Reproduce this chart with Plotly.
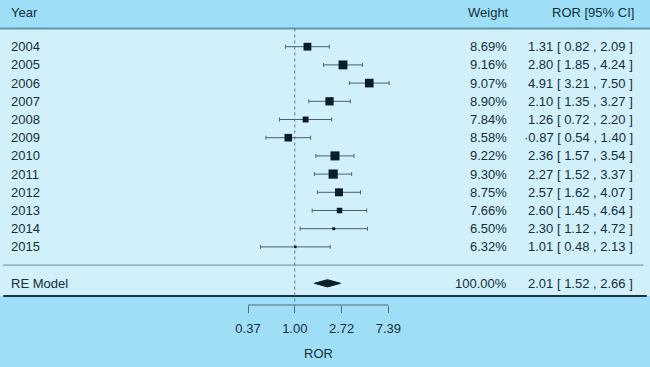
import math
import plotly.graph_objects as go

# ---------------- data ----------------
years = ["2004", "2005", "2006", "2007", "2008", "2009",
         "2010", "2011", "2012", "2013", "2014", "2015"]
weights = [8.69, 9.16, 9.07, 8.90, 7.84, 8.58, 9.22, 9.30, 8.75, 7.66, 6.50, 6.32]
ror = [1.31, 2.80, 4.91, 2.10, 1.26, 0.87, 2.36, 2.27, 2.57, 2.60, 2.30, 1.01]
ci_low = [0.82, 1.85, 3.21, 1.35, 0.72, 0.54, 1.57, 1.52, 1.62, 1.45, 1.12, 0.48]
ci_high = [2.09, 4.24, 7.50, 3.27, 2.20, 1.40, 3.54, 3.37, 4.07, 4.64, 4.72, 2.13]
label_prefix = {"2009": "·"}

re_label = "RE Model"
re_weight = 100.00
re_est, re_low, re_high = 2.01, 1.52, 2.66

tick_vals = [math.exp(-1), 1.0, math.exp(1), math.exp(2)]
tick_text = ["0.37", "1.00", "2.72", "7.39"]

# ---------------- styling ----------------
W, H = 650, 367
OUTER = "#9EDFF7"
INNER = "#D2F0FA"
TXT = "#142E3A"
MARK = "#0A1E27"
CI_COL = "#4A6069"
FONT = "Liberation Sans, Arial, sans-serif"
FS = 13

k = len(years)
rows = [k - i for i in range(k)]  # 12 .. 1
re_row = -1

# x axis: pixel = 294.8 + 46.8*ln(v)
px0, pxu = 294.8, 46.8
x_lo = (0 - px0) / pxu / math.log(10)
x_hi = (W - px0) / pxu / math.log(10)

# y axis: pixel = 265.1 - 18.2*row ; plot area height 305
plot_h = 305
y_top = 265.1 / 18.2
y_bot = (265.1 - plot_h) / 18.2
panel_bot = (265.1 - 296) / 18.2

fig = go.Figure()

# dotted reference line at 1
fig.add_trace(go.Scatter(x=[1, 1], y=[13, y_bot], mode="lines",
                         line=dict(color="#5F7C87", width=1, dash="dot"),
                         hoverinfo="skip", showlegend=False))

# study estimates with CIs
wmin, wmax = min(weights), max(weights)
sizes = [2.5 + (w - wmin) / (wmax - wmin) * 6.7 for w in weights]
fig.add_trace(go.Scatter(
    x=ror, y=rows, mode="markers",
    marker=dict(symbol="square", size=sizes, color=MARK, opacity=1,
                line=dict(width=0)),
    error_x=dict(type="data", symmetric=False,
                 array=[h - e for h, e in zip(ci_high, ror)],
                 arrayminus=[e - l for e, l in zip(ror, ci_low)],
                 color=CI_COL, thickness=1, width=2),
    showlegend=False, hoverinfo="skip"))

# summary diamond
dh = 0.2
fig.add_trace(go.Scatter(
    x=[re_low, re_est, re_high, re_est, re_low],
    y=[re_row, re_row + dh, re_row, re_row - dh, re_row],
    mode="lines", fill="toself", fillcolor=MARK,
    line=dict(color=MARK, width=1), showlegend=False, hoverinfo="skip"))

shapes = [
    dict(type="rect", xref="paper", yref="y", x0=0, x1=1, y0=panel_bot, y1=13,
         fillcolor=INNER, line=dict(width=0), layer="below"),
    dict(type="line", xref="paper", yref="y", x0=0, x1=1, y0=13, y1=13,
         line=dict(color="#5E98AC", width=2), layer="below"),
    dict(type="line", xref="paper", yref="y", x0=0.005, x1=0.99, y0=0, y1=0,
         line=dict(color="#6E8890", width=1), layer="below"),
    dict(type="line", xref="paper", yref="y", x0=0.005, x1=0.995,
         y0=panel_bot, y1=panel_bot, line=dict(color="#1C3440", width=2),
         layer="below"),
    dict(type="line", xref="x", yref="paper", x0=tick_vals[0], x1=tick_vals[-1],
         y0=0, y1=0, line=dict(color="#4E6D78", width=1)),
]

ann = []
def txt(x, y, s, anchor):
    ann.append(dict(xref="paper", yref="y", x=x / W, y=y, text=s,
                    showarrow=False, xanchor=anchor, yanchor="middle",
                    font=dict(family=FONT, size=FS, color=TXT)))

hdr = 13.9
txt(9, hdr, "Year", "left")
txt(511, hdr, "Weight", "right")
txt(636, hdr, "ROR [95% CI]", "right")

for yr, w, e, l, h, r in zip(years, weights, ror, ci_low, ci_high, rows):
    txt(9, r, yr, "left")
    txt(509, r, f"{w:.2f}%", "right")
    txt(635, r, f"{label_prefix.get(yr, '')}{e:.2f} [ {l:.2f} , {h:.2f} ]", "right")

txt(9, re_row, re_label, "left")
txt(509, re_row, f"{re_weight:.2f}%", "right")
txt(635, re_row, f"{re_est:.2f} [ {re_low:.2f} , {re_high:.2f} ]", "right")

ann.append(dict(xref="x", yref="paper",
                x=(math.log10(tick_vals[0]) + math.log10(tick_vals[-1])) / 2,
                y=(H - 353.5 - (H - plot_h)) / plot_h,
                text="ROR", showarrow=False, xanchor="center", yanchor="middle",
                font=dict(family=FONT, size=FS, color=TXT)))

fig.update_layout(
    width=W, height=H,
    margin=dict(l=0, r=0, t=0, b=H - plot_h),
    paper_bgcolor=OUTER, plot_bgcolor="rgba(0,0,0,0)",
    shapes=shapes, annotations=ann,
    xaxis=dict(type="log", range=[x_lo, x_hi], showgrid=False, zeroline=False,
               showline=False, tickvals=tick_vals, ticktext=tick_text,
               ticks="outside", ticklen=7, tickwidth=1, tickcolor="#4E6D78",
               ticklabelstandoff=4,
               tickfont=dict(family=FONT, size=FS, color=TXT),
               fixedrange=True),
    yaxis=dict(range=[y_bot, y_top], showgrid=False, zeroline=False,
               showticklabels=False, showline=False, fixedrange=True),
    font=dict(family=FONT, size=FS, color=TXT),
)

fig.write_html("out.html", config={"displayModeBar": False},
               post_script="document.body.style.margin='0';document.body.style.padding='0';")
